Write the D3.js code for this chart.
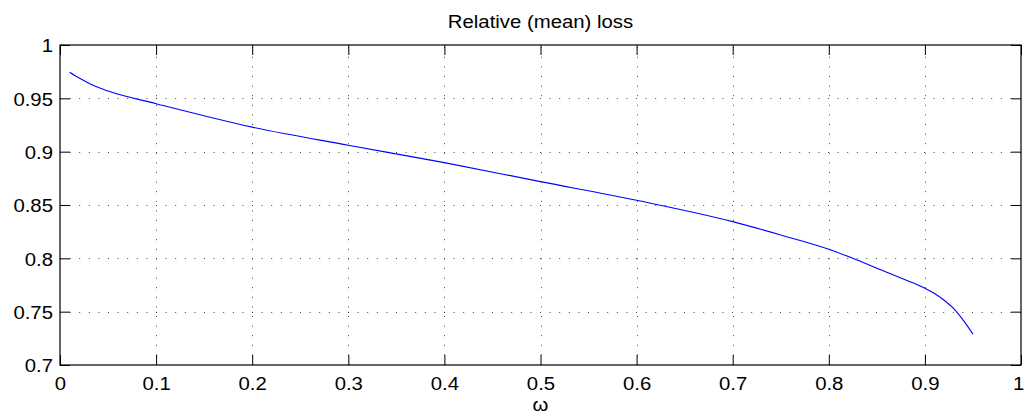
<!DOCTYPE html>
<html><head><meta charset="utf-8">
<script src="https://cdn.jsdelivr.net/npm/d3@7"></script>
<style>
html,body{margin:0;padding:0;background:#fff;}
svg{display:block;}
text{font-family:"Liberation Sans",Arial,Helvetica,sans-serif;fill:#000;}
</style></head>
<body>
<svg id="chart" width="1024" height="417"></svg>
<script>
const omega = [0.01,0.02,0.03,0.04,0.05,0.1,0.2,0.3,0.4,0.5,0.6,0.7,0.75,0.8,0.825,0.85,0.875,0.9,0.91,0.92,0.93,0.94,0.95];
const loss  = [0.9745,0.9690,0.9642,0.9601,0.9568,0.945,0.923,0.906,0.8897,0.8719,0.8544,0.8344,0.8219,0.8085,0.8,0.7907,0.7815,0.772,0.767,0.7607,0.7528,0.7418,0.729];
const xTicks = [0,0.1,0.2,0.3,0.4,0.5,0.6,0.7,0.8,0.9,1];
const yTicks = [0.7,0.75,0.8,0.85,0.9,0.95,1];
const titleText = "Relative (mean) loss";
const xLabelText = "ω";

const W = 1024, H = 417;
const m = {left:60, right:1021, top:45, bottom:365};
const svg = d3.select("#chart");
const x = d3.scaleLinear().domain([0,1]).range([m.left, m.right]);
const y = d3.scaleLinear().domain([0.7,1]).range([m.bottom, m.top]);
const fs = 18.5, sx = 1.1;

// grid
const grid = svg.append("g").attr("stroke","#444").attr("stroke-width",1).attr("stroke-dasharray","1,8.6");
grid.selectAll("line.vx").data(xTicks.slice(1,-1)).join("line")
  .attr("x1",d=>Math.round(x(d))+0.5).attr("x2",d=>Math.round(x(d))+0.5)
  .attr("y1",m.bottom).attr("y2",m.top);
grid.selectAll("line.hy").data(yTicks.slice(1,-1)).join("line")
  .attr("y1",d=>Math.round(y(d))+0.5).attr("y2",d=>Math.round(y(d))+0.5)
  .attr("x1",m.left).attr("x2",m.right);

// axes
const tl = 10;
function styleAxis(g){ g.select(".domain").remove(); g.selectAll("line").attr("stroke","#000"); }
const xb = svg.append("g").attr("transform",`translate(0,${m.bottom})`)
  .call(d3.axisBottom(x).tickValues(xTicks).tickSize(-tl).tickPadding(12).tickFormat(d3.format("~g")));
styleAxis(xb);
xb.selectAll("text").attr("font-size",fs).attr("dy","0.71em").attr("transform",`scale(${sx},1)`)
  .attr("x",(d)=> d===1 ? -2.5 : 0);
const xt = svg.append("g").attr("transform",`translate(0,${m.top})`)
  .call(d3.axisTop(x).tickValues(xTicks).tickSize(-tl).tickFormat(""));
styleAxis(xt);
const yl = svg.append("g").attr("transform",`translate(${m.left},0)`)
  .call(d3.axisLeft(y).tickValues(yTicks).tickSize(-tl).tickPadding(7).tickFormat(d3.format("~g")));
styleAxis(yl);
yl.selectAll("text").attr("font-size",fs).attr("dy","0.36em").attr("x",-7/sx).attr("transform",`scale(${sx},1)`);
const yr = svg.append("g").attr("transform",`translate(${m.right},0)`)
  .call(d3.axisRight(y).tickValues(yTicks).tickSize(-tl).tickFormat(""));
styleAxis(yr);

// frame
svg.append("rect").attr("x",m.left).attr("y",m.top).attr("width",m.right-m.left).attr("height",m.bottom-m.top)
  .attr("fill","none").attr("stroke","#000").attr("stroke-width",1.2);

// line
const pts = omega.map((o,i)=>[o,loss[i]]);
svg.append("path").datum(pts)
  .attr("d", d3.line().x(d=>x(d[0])).y(d=>y(d[1])).curve(d3.curveMonotoneX))
  .attr("fill","none").attr("stroke","#0000ff").attr("stroke-width",1.1);

// title and label
const cx = (m.left+m.right)/2;
svg.append("text").attr("transform",`translate(${cx},28) scale(${sx},1)`).attr("text-anchor","middle")
  .attr("font-size",fs).text(titleText);
svg.append("text").attr("transform",`translate(${x(0.5)},411) scale(${sx},1)`).attr("text-anchor","middle")
  .attr("font-size",fs).text(xLabelText);
</script>
</body></html>
